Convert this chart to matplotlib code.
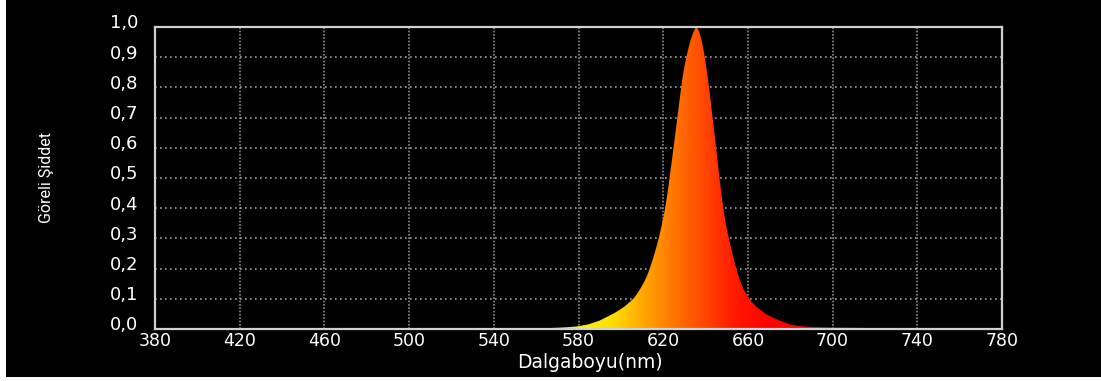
import numpy as np
import matplotlib
matplotlib.use("Agg")
import matplotlib.pyplot as plt
from matplotlib.colors import LinearSegmentedColormap
from matplotlib.patches import Rectangle
from matplotlib.transforms import ScaledTranslation

# ---- data ----
wavelength = [555, 560, 570, 575, 580, 585, 590, 594, 597, 600, 602, 604, 606,
              607, 608, 609, 610, 611, 612, 613, 614, 615, 616, 617, 618, 619,
              620, 621, 622, 623, 624, 625, 626, 627, 628, 629, 630, 631, 632,
              633, 634, 635, 635.5, 636, 637, 638, 639, 640, 641, 642, 643,
              644, 645, 646, 647, 648, 649, 650, 651, 652, 653, 654, 655, 656,
              658, 660, 662, 664, 666, 668, 670, 673, 676, 680, 685, 690, 700,
              710, 720, 740, 760, 780]
intensity = [0.0, 0.002, 0.004, 0.006, 0.009, 0.016, 0.028, 0.042, 0.053,
             0.066, 0.076, 0.088, 0.101, 0.110, 0.120, 0.131, 0.143, 0.156,
             0.170, 0.188, 0.208, 0.229, 0.252, 0.277, 0.304, 0.334, 0.367,
             0.403, 0.448, 0.50, 0.553, 0.607, 0.662, 0.718, 0.773, 0.826,
             0.868, 0.902, 0.932, 0.958, 0.978, 0.994, 1.0, 0.998, 0.985,
             0.96, 0.925, 0.885, 0.835, 0.78, 0.72, 0.66, 0.60, 0.535, 0.475,
             0.42, 0.372, 0.332, 0.300, 0.270, 0.241, 0.213, 0.188, 0.165,
             0.131, 0.107, 0.088, 0.074, 0.063, 0.052, 0.044, 0.034, 0.025,
             0.015, 0.009, 0.007, 0.005, 0.004, 0.003, 0.002, 0.0015, 0.001]
x_ticks = [380, 420, 460, 500, 540, 580, 620, 660, 700, 740, 780]
x_tick_labels = ["380", "420", "460", "500", "540", "580", "620", "660",
                 "700", "740", "780"]
y_ticks = [0.0, 0.1, 0.2, 0.3, 0.4, 0.5, 0.6, 0.7, 0.8, 0.9, 1.0]
y_tick_labels = ["0,0", "0,1", "0,2", "0,3", "0,4", "0,5", "0,6", "0,7",
                 "0,8", "0,9", "1,0"]
x_label = "Dalgaboyu(nm)"
y_label = "Göreli Şiddet"

W, H = 1101, 381
fig = plt.figure(figsize=(W / 100, H / 100), dpi=100, facecolor="white")
fig.patches.append(Rectangle((6 / W, 4 / H), 1 - 6 / W, 1 - 4 / H,
                             transform=fig.transFigure, facecolor="black",
                             edgecolor="none", zorder=-10))

L, R, T, B = 155, 1002, 27, 329
ax = fig.add_axes([L / W, (H - B) / H, (R - L) / W, (B - T) / H])
ax.set_facecolor("black")
ax.set_xlim(380, 780)
ax.set_ylim(0, 1)

# filled spectrum with horizontal colour gradient
poly = ax.fill_between(wavelength, intensity, 0, facecolor="none",
                       edgecolor="none", zorder=2)
stops = [(0.0, "#ffff00"), ((572 - 380) / 400, "#ffff00"),
         ((595 - 380) / 400, "#ffe000"), ((615 - 380) / 400, "#ff9800"),
         ((636 - 380) / 400, "#ff5200"), ((655 - 380) / 400, "#ff1800"),
         ((670 - 380) / 400, "#ff0000"), (1.0, "#ff0000")]
cmap = LinearSegmentedColormap.from_list("spec", stops)
grad = np.linspace(0, 1, 1200)[np.newaxis, :]
img = ax.imshow(grad, cmap=cmap, extent=[380, 780, 0, 1], aspect="auto",
                origin="lower", zorder=2, interpolation="bilinear")
img.set_clip_path(poly.get_paths()[0], transform=ax.transData)

# grid
ax.set_axisbelow(True)
ax.set_xticks(x_ticks)
ax.set_xticklabels(x_tick_labels)
ax.set_yticks(y_ticks)
ax.set_yticklabels(y_tick_labels)
ax.xaxis.grid(True, color="#8c8c8c", linestyle=(0, (1, 1)), linewidth=1.2)
ax.yaxis.grid(True, color="#a0a0a0", linestyle=(0, (1, 2)), linewidth=1.2)

for s in ax.spines.values():
    s.set_color("#d0d0d0")
    s.set_linewidth(1.6)

ax.tick_params(axis="both", length=0, colors="white")
ax.tick_params(axis="x", labelsize=12.5, pad=2.5)
ax.tick_params(axis="y", labelsize=13, pad=12)
off = ScaledTranslation(0, 4 / 72, fig.dpi_scale_trans)
for lab in ax.get_yticklabels():
    lab.set_transform(lab.get_transform() + off)

fig.text(590 / W, 1 - 363 / H, x_label, color="white", fontsize=13.5,
         ha="center", va="center")
fig.text(46 / W, 1 - 177 / H, y_label, color="white", fontsize=11.5,
         rotation=90, ha="center", va="center", family=["Roboto", "DejaVu Sans"])

fig.savefig("out.png", dpi=100, facecolor=fig.get_facecolor())
